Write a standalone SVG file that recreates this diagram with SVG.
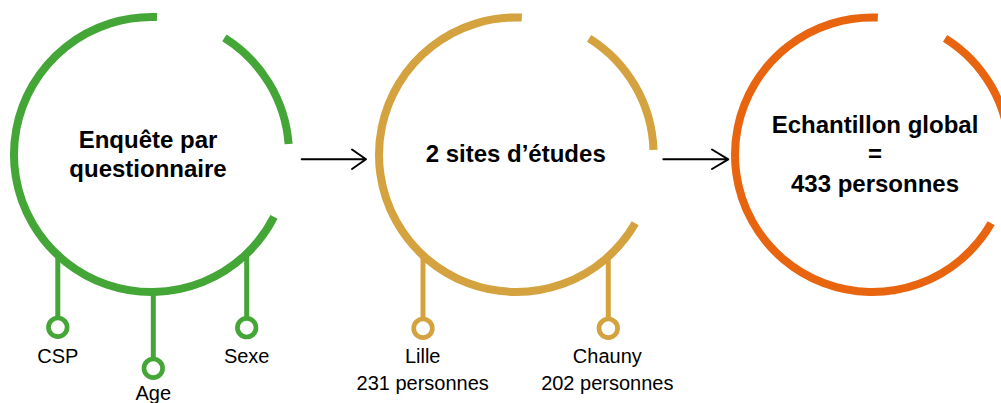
<svg xmlns="http://www.w3.org/2000/svg" width="1001" height="403" viewBox="0 0 1001 403">
<style>
.ring{fill:none;stroke-width:8;stroke-linecap:butt}
.stem{fill:none;stroke-width:5}
.dot{fill:#fff;stroke-width:4.7}
.g{stroke:#44a637}
.y{stroke:#d4a23e}
.o{stroke:#e8640f}
.t{font-family:"Liberation Sans",Arial,sans-serif;font-weight:bold;font-size:24px;fill:#000;text-anchor:middle}
.l{font-family:"Liberation Sans",Arial,sans-serif;font-size:20px;fill:#000;text-anchor:middle}
.arr{fill:none;stroke:#000;stroke-width:2;stroke-linecap:round;stroke-linejoin:round}
</style>
<rect width="1001" height="403" fill="#fff"/>
<g id="node-enquete">
<path class="ring g" d="M274.0,216.9 A137.5,137.5 0 1 1 157.0,17.1"/>
<path class="ring g" d="M224.4,37.9 A137.5,137.5 0 0 1 288.6,144.0"/>
<text class="t" x="148" y="148.3">Enquête par</text>
<text class="t" x="148" y="176.7">questionnaire</text>
</g>
<g id="node-csp">
<line class="stem g" x1="57.8" y1="252" x2="57.8" y2="318"/>
<circle class="dot g" cx="57.8" cy="327.3" r="9.3"/>
<text class="l" x="57.8" y="362.5">CSP</text>
</g>
<g id="node-age">
<line class="stem g" x1="153.3" y1="290" x2="153.3" y2="359"/>
<circle class="dot g" cx="153.3" cy="368.3" r="9.3"/>
<text class="l" x="153.3" y="400.3">Age</text>
</g>
<g id="node-sexe">
<line class="stem g" x1="246.7" y1="251" x2="246.7" y2="318"/>
<circle class="dot g" cx="246.7" cy="327.7" r="9.3"/>
<text class="l" x="246.7" y="362.5">Sexe</text>
</g>
<g id="node-sites">
<path class="ring y" d="M635.2,223.35 A137.3,137.3 0 1 1 521.8,17.5"/>
<path class="ring y" d="M589.1,38.3 A137.3,137.3 0 0 1 653.5,149.9"/>
<text class="t" x="515.7" y="161.7">2 sites d’études</text>
</g>
<g id="node-lille">
<line class="stem y" x1="423" y1="253" x2="423" y2="319"/>
<circle class="dot y" cx="423" cy="328.3" r="9.3"/>
<text class="l" x="422.7" y="362.5">Lille</text>
<text class="l" x="422.7" y="389.5">231 personnes</text>
</g>
<g id="node-chauny">
<line class="stem y" x1="608.3" y1="254" x2="608.3" y2="319"/>
<circle class="dot y" cx="608.3" cy="328.3" r="9.3"/>
<text class="l" x="607.3" y="362.5">Chauny</text>
<text class="l" x="607.3" y="389.5">202 personnes</text>
</g>
<g id="node-echantillon">
<path class="ring o" d="M991.2,223.35 A137.3,137.3 0 1 1 877.8,17.5"/>
<path class="ring o" d="M945.1,38.3 A137.3,137.3 0 0 1 1009.5,149.9"/>
<text class="t" x="875" y="132.7">Echantillon global</text>
<text class="t" x="875" y="162.2">=</text>
<text class="t" x="875" y="191.6">433 personnes</text>
</g>
<g id="connectors">
<path class="arr" d="M301.7,159.3 H366 M352,149.5 L366,159.3 L352,169"/>
<path class="arr" d="M663.3,159.3 H728.3 M712,149.5 L728.3,159.3 L712,169"/>
</g>
</svg>
